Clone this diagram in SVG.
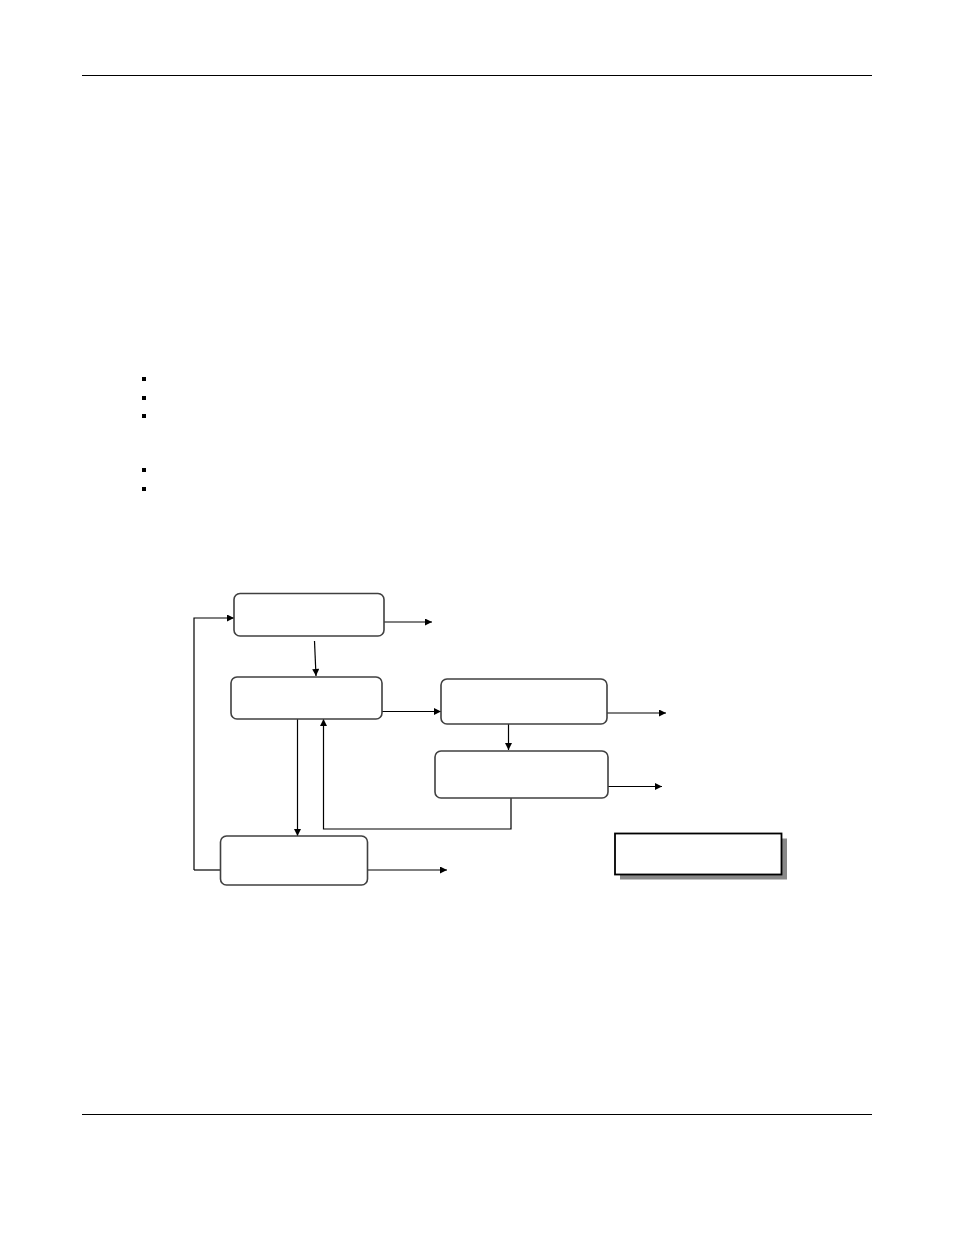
<svg xmlns="http://www.w3.org/2000/svg" width="954" height="1235" viewBox="0 0 954 1235">
<style>
.rule{stroke:#000;stroke-width:1}
.node{fill:#fff;stroke:#404040;stroke-width:1.6}
.conn{fill:none;stroke:#000;stroke-width:1.2}
.bullet{fill:#000}
</style>
<defs>
<marker id="ah" viewBox="0 0 10 10" refX="10" refY="5" markerWidth="8" markerHeight="7" markerUnits="userSpaceOnUse" orient="auto">
<path d="M0,0 L10,5 L0,10 z" fill="#000"/>
</marker>
</defs>
<rect width="954" height="1235" fill="#fff"/>
<line class="rule" x1="82" y1="75.5" x2="872" y2="75.5"/>
<line class="rule" x1="82" y1="1114.5" x2="872" y2="1114.5"/>
<g id="bullets">
<rect class="bullet" x="142" y="377" width="4" height="4"/>
<rect class="bullet" x="142" y="396" width="4" height="4"/>
<rect class="bullet" x="142" y="414" width="4" height="4"/>
<rect class="bullet" x="142" y="468" width="4" height="4"/>
<rect class="bullet" x="142" y="487" width="4" height="4"/>
</g>
<g id="connectors">
<path class="conn" marker-end="url(#ah)" d="M384,622 L432,622"/>
<path class="conn" marker-end="url(#ah)" d="M194,870 L194,618 L234,618"/>
<path class="conn" marker-end="url(#ah)" d="M314.5,641 L316,676"/>
<path class="conn" marker-end="url(#ah)" d="M382,711.5 L441,711.5"/>
<path class="conn" marker-end="url(#ah)" d="M297.5,719 L297.5,836"/>
<path class="conn" marker-end="url(#ah)" d="M511,798 L511,829 L323.5,829 L323.5,719"/>
<path class="conn" d="M194,870 L220,870"/>
<path class="conn" marker-end="url(#ah)" d="M367,870 L447,870"/>
<path class="conn" marker-end="url(#ah)" d="M607,713 L666,713"/>
<path class="conn" marker-end="url(#ah)" d="M508.5,724 L508.5,750"/>
<path class="conn" marker-end="url(#ah)" d="M608,786.5 L662,786.5"/>
</g>
<g id="node1"><rect class="node" x="234" y="593.5" width="150" height="42.5" rx="6"/></g>
<g id="node2"><rect class="node" x="231" y="677" width="151" height="42" rx="6"/></g>
<g id="node3"><rect class="node" x="441" y="679" width="166" height="45" rx="6"/></g>
<g id="node4"><rect class="node" x="435" y="751" width="173" height="47" rx="6"/></g>
<g id="node5"><rect class="node" x="220.5" y="836" width="147" height="49" rx="6"/></g>
<g id="legend">
<rect x="620" y="838.5" width="167" height="41" fill="#888"/>
<rect x="615" y="833.5" width="166.5" height="41" fill="#fff" stroke="#000" stroke-width="1.8"/>
</g>
</svg>
